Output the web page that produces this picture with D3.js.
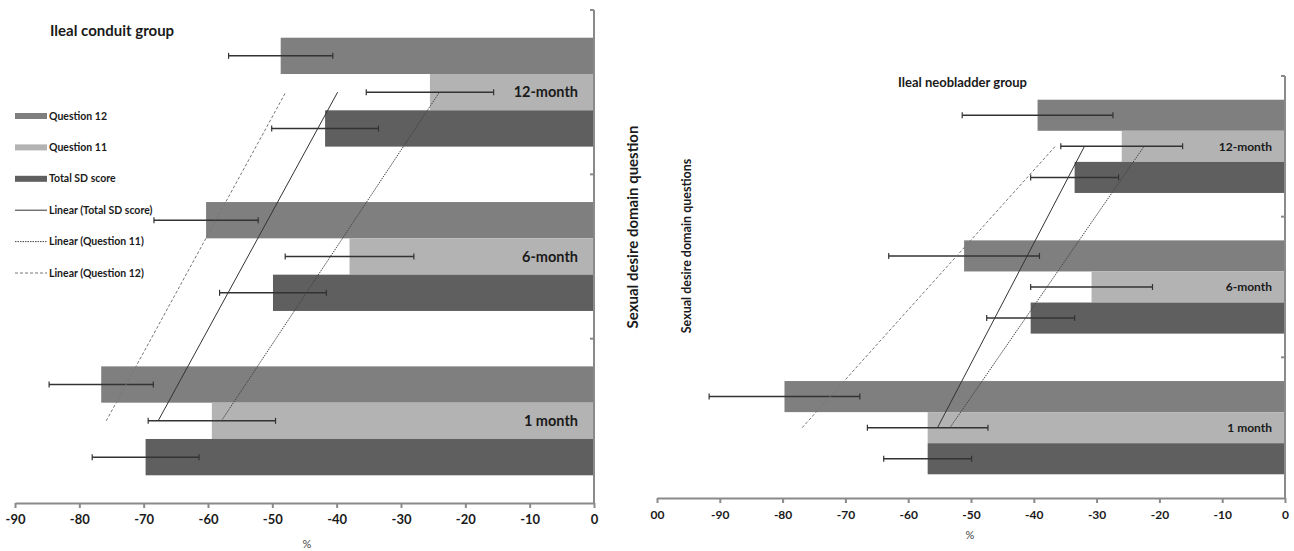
<!DOCTYPE html>
<html>
<head>
<meta charset="utf-8">
<script src="https://cdn.jsdelivr.net/npm/d3@7"></script>
<style>
body { margin: 0; background: #fff; }
text { font-family: Lato, "Open Sans", sans-serif; font-weight: bold; fill: #1a1a1a; }
</style>
</head>
<body>
<svg id="chart" width="1294" height="551"></svg>
<script>

// Categories, top to bottom
var periods = ["12-month", "6-month", "1 month"];
var seriesKeys = ["Question 12", "Question 11", "Total SD score"];

// Ileal conduit group (mean % change, SD)
var conduitQ12 = [-48.7, -60.3, -76.6];
var conduitQ11 = [-25.5, -38.0, -59.4];
var conduitTotal = [-41.8, -49.9, -69.7];
var conduitQ12Sd = [8.1, 8.1, 8.1];
var conduitQ11Sd = [9.9, 10.0, 9.9];
var conduitTotalSd = [8.3, 8.3, 8.3];

// Ileal neobladder group
var neoQ12 = [-39.4, -51.1, -79.7];
var neoQ11 = [-26.0, -30.8, -56.9];
var neoTotal = [-33.5, -40.5, -56.9];
var neoQ12Sd = [12.0, 12.0, 12.0];
var neoQ11Sd = [9.7, 9.7, 9.6];
var neoTotalSd = [7.0, 7.0, 7.0];

// Tick labels
var conduitTicks = [-90, -80, -70, -60, -50, -40, -30, -20, -10, 0];
var conduitTickLabels = ["-90", "-80", "-70", "-60", "-50", "-40", "-30", "-20", "-10", "0"];
var neoTicks = [-100, -90, -80, -70, -60, -50, -40, -30, -20, -10, 0];
var neoTickLabels = ["00", "-90", "-80", "-70", "-60", "-50", "-40", "-30", "-20", "-10", "0"];

var legendItems = ["Question 12", "Question 11", "Total SD score", "Linear (Total SD score)", "Linear (Question 11)", "Linear (Question 12)"];

var barColor = { "Question 12": "#7f7f7f", "Question 11": "#b3b3b3", "Total SD score": "#5f5f5f" };
var trendStyle = {
	"Total SD score": { stroke: "#333", dash: null, width: 1 },
	"Question 11": { stroke: "#444", dash: "1.5,1", width: 1 },
	"Question 12": { stroke: "#777", dash: "3,2", width: 1 }
};

var svg = d3.select("#chart");

function buildRows(q12, q11, tot, q12Sd, q11Sd, totSd) {
	return periods.map(function(p, i) {
		return {
			period: p,
			t: periods.length - i, // 1 month = 1, 6-month = 2, 12-month = 3
			values: [
				{ key: "Question 12", v: q12[i], sd: q12Sd[i] },
				{ key: "Question 11", v: q11[i], sd: q11Sd[i] },
				{ key: "Total SD score", v: tot[i], sd: totSd[i] }
			]
		};
	});
}

// least squares fit over the period index, like an Excel linear trendline
function linearFit(rows, key) {
	var pts = rows.map(function(r) {
		return [r.t, r.values.find(function(d) { return d.key === key; }).v];
	});
	var mx = d3.mean(pts, function(p) { return p[0]; }),
		my = d3.mean(pts, function(p) { return p[1]; });
	var num = d3.sum(pts, function(p) { return (p[0] - mx) * (p[1] - my); }),
		den = d3.sum(pts, function(p) { return (p[0] - mx) * (p[0] - mx); });
	var slope = num / den;
	return function(t) { return my + slope * (t - mx); };
}

function drawPanel(cfg) {
	var x = d3.scaleLinear().domain(cfg.domain).range(cfg.xRange);
	var y = d3.scaleBand().domain(periods).range(cfg.yRange).paddingInner(0).paddingOuter(0);
	var inner = d3.scaleBand().domain(seriesKeys).range([0, y.bandwidth()]).paddingInner(0).paddingOuter(0.763);

	var g = svg.append("g");

	// bars
	var group = g.selectAll(".period")
		.data(cfg.rows)
		.enter().append("g")
		.attr("transform", function(d) { return "translate(0," + y(d.period) + ")"; });

	group.selectAll("rect")
		.data(function(d) { return d.values; })
		.enter().append("rect")
		.attr("x", function(d) { return x(d.v); })
		.attr("y", function(d) { return inner(d.key); })
		.attr("width", function(d) { return x(0) - x(d.v); })
		.attr("height", inner.bandwidth())
		.attr("fill", function(d) { return barColor[d.key]; });

	// period labels inside the Question 11 bar
	group.append("text")
		.attr("x", x(0) - cfg.labelInset)
		.attr("y", inner("Question 11") + inner.bandwidth() / 2)
		.attr("dy", "0.35em")
		.attr("text-anchor", "end")
		.style("font-size", cfg.labelSize + "px")
		.text(function(d) { return d.period; });

	// trendlines
	var tMin = 1, tMax = periods.length;
	["Total SD score", "Question 11", "Question 12"].forEach(function(key) {
		var f = linearFit(cfg.rows, key);
		var st = trendStyle[key];
		g.append("line")
			.attr("x1", x(f(tMin))).attr("y1", y(periods[periods.length - 1]) + y.bandwidth() / 2)
			.attr("x2", x(f(tMax))).attr("y2", y(periods[0]) + y.bandwidth() / 2)
			.attr("stroke", st.stroke)
			.attr("stroke-width", st.width)
			.attr("stroke-dasharray", st.dash);
	});

	// error bars
	var err = group.selectAll(".err")
		.data(function(d) { return d.values; })
		.enter().append("g")
		.attr("transform", function(d) { return "translate(0," + (inner(d.key) + inner.bandwidth() / 2) + ")"; });
	err.append("line")
		.attr("x1", function(d) { return x(d.v - d.sd); })
		.attr("x2", function(d) { return x(d.v + d.sd); })
		.attr("stroke", "#333").attr("stroke-width", 1.5);
	err.append("line")
		.attr("x1", function(d) { return x(d.v - d.sd); })
		.attr("x2", function(d) { return x(d.v - d.sd); })
		.attr("y1", -3).attr("y2", 3)
		.attr("stroke", "#333").attr("stroke-width", 1.2);
	err.append("line")
		.attr("x1", function(d) { return x(d.v + d.sd); })
		.attr("x2", function(d) { return x(d.v + d.sd); })
		.attr("y1", -3).attr("y2", 3)
		.attr("stroke", "#333").attr("stroke-width", 1.2);

	// vertical category axis at 0
	g.append("line")
		.attr("x1", x(0)).attr("x2", x(0))
		.attr("y1", cfg.yRange[0]).attr("y2", cfg.yRange[1])
		.attr("stroke", "#8a8a8a").attr("stroke-width", 2);
	g.selectAll(".cattick")
		.data(periods)
		.enter().append("line")
		.attr("x1", x(0) - 4).attr("x2", x(0))
		.attr("y1", function(d) { return y(d); })
		.attr("y2", function(d) { return y(d); })
		.attr("stroke", "#8a8a8a").attr("stroke-width", 2);

	// x axis
	var xAxis = d3.axisBottom(x)
		.tickValues(cfg.ticks)
		.tickFormat(function(d, i) { return cfg.tickLabels[i]; })
		.tickSize(5)
		.tickSizeOuter(0);
	var ax = g.append("g")
		.attr("transform", "translate(0," + cfg.yRange[1] + ")")
		.call(xAxis);
	ax.attr("font-family", null).attr("font-size", null);
	ax.select(".domain").attr("stroke", "#8a8a8a").attr("stroke-width", 2);
	ax.selectAll(".tick line").attr("stroke", "#8a8a8a").attr("stroke-width", 2);
	ax.selectAll(".tick text")
		.attr("y", 12)
		.style("font-size", cfg.tickSize + "px")
		.style("fill", "#1a1a1a");

	// axis title
	g.append("text")
		.attr("x", cfg.pctPos[0]).attr("y", cfg.pctPos[1])
		.attr("text-anchor", "middle")
		.style("font-size", "11px")
		.style("font-weight", "normal")
		.style("fill", "#444")
		.text("%");

	// panel title
	g.append("text")
		.attr("x", cfg.titlePos[0]).attr("y", cfg.titlePos[1])
		.attr("dy", "0.35em")
		.style("font-size", cfg.titleSize + "px")
		.text(cfg.title);
}

drawPanel({
	rows: buildRows(conduitQ12, conduitQ11, conduitTotal, conduitQ12Sd, conduitQ11Sd, conduitTotalSd),
	domain: [-90, 0],
	xRange: [15, 594],
	yRange: [10, 503],
	ticks: conduitTicks,
	tickLabels: conduitTickLabels,
	tickSize: 13,
	labelSize: 14.5,
	labelInset: 16,
	pctPos: [307, 548],
	title: "Ileal conduit group",
	titlePos: [50, 31],
	titleSize: 15
});

drawPanel({
	rows: buildRows(neoQ12, neoQ11, neoTotal, neoQ12Sd, neoQ11Sd, neoTotalSd),
	domain: [-100, 0],
	xRange: [657, 1285],
	yRange: [76, 498],
	ticks: neoTicks,
	tickLabels: neoTickLabels,
	tickSize: 12,
	labelSize: 12,
	labelInset: 13,
	pctPos: [970, 539],
	title: "Ileal neobladder group",
	titlePos: [898, 82],
	titleSize: 13
});

// legend (left panel)
var legend = svg.append("g").attr("transform", "translate(15,116)");
var li = legend.selectAll(".item")
	.data(legendItems)
	.enter().append("g")
	.attr("transform", function(d, i) { return "translate(0," + (i * 31.4) + ")"; });
li.each(function(d, i) {
	var sel = d3.select(this);
	if (i < 3) {
		sel.append("rect")
			.attr("x", 0).attr("y", -3).attr("width", 32).attr("height", 6)
			.attr("fill", barColor[d]);
	} else {
		var st = trendStyle[seriesKeys[["Linear (Question 12)", "Linear (Question 11)", "Linear (Total SD score)"].indexOf(d)]];
		sel.append("line")
			.attr("x1", 0).attr("x2", 32)
			.attr("stroke", st.stroke)
			.attr("stroke-width", 1)
			.attr("stroke-dasharray", st.dash);
	}
	sel.append("text")
		.attr("x", 34).attr("dy", "0.35em")
		.style("font-size", "10.5px")
		.text(d);
});

// rotated axis titles
svg.append("text")
	.attr("transform", "translate(633,227) rotate(-90)")
	.attr("text-anchor", "middle")
	.attr("dy", "0.35em")
	.style("font-size", "15px")
	.text("Sexual desire domain question");
svg.append("text")
	.attr("transform", "translate(687,246) rotate(-90)")
	.attr("text-anchor", "middle")
	.attr("dy", "0.35em")
	.style("font-size", "12.5px")
	.text("Sexual desire domain questions");

</script>
</body>
</html>
